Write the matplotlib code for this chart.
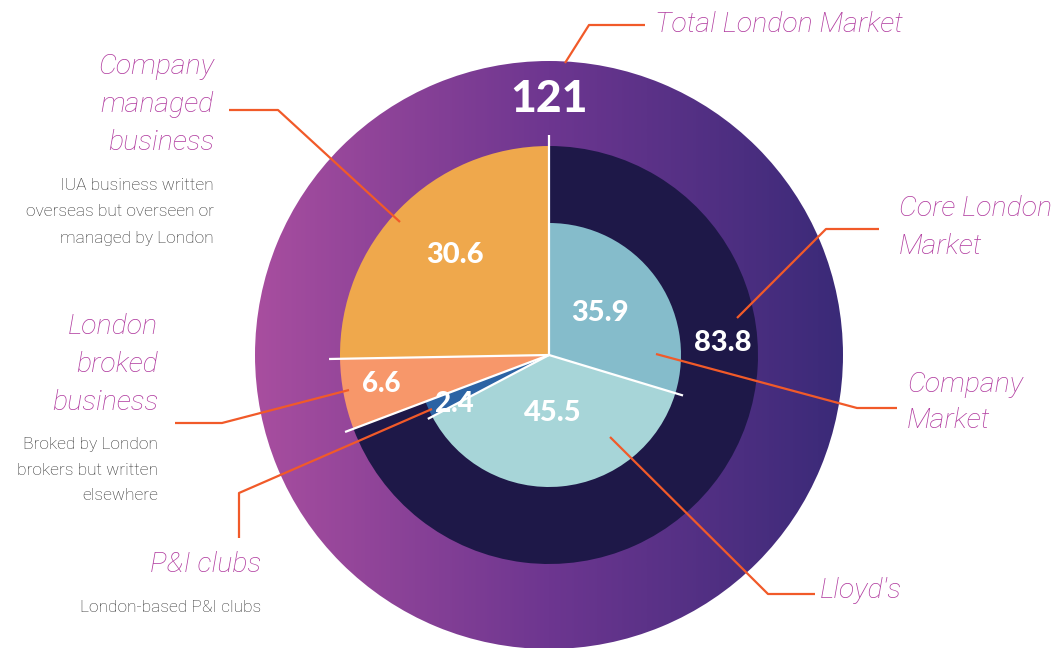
import numpy as np
import matplotlib
matplotlib.use("Agg")
import matplotlib.pyplot as plt
from matplotlib.colors import LinearSegmentedColormap

# ---- data ----
total_label = "121"
total_value = 121.0
middle_labels = ["Company managed business", "London broked business", "Core London Market"]
middle_values = [30.6, 6.6, 83.8]
inner_labels = ["Company Market", "Lloyd's", "P&I clubs"]
inner_values = [35.9, 45.5, 2.4]

W, H = 1062, 648
fig = plt.figure(figsize=(W / 100, H / 100), dpi=100)
ax = fig.add_axes([0, 0, 1, 1])

def Y(y):
    return H - y

cx, cy = 549, Y(355)
R_out, R_mid, R_in = 294, 209, 132

# outer ring: gradient clipped to a disk
outer, _ = ax.pie([total_value], radius=R_out, center=(cx, cy), colors=["none"],
                  wedgeprops=dict(linewidth=0), frame=True)
cmap = LinearSegmentedColormap.from_list("g", ["#a84e9f", "#6d3690", "#3a2a78"])
grad = np.linspace(0, 1, 512).reshape(1, -1)
im = ax.imshow(grad, cmap=cmap, extent=[cx - R_out, cx + R_out, cy - R_out, cy + R_out],
               aspect="auto", zorder=1)
im.set_clip_path(outer[0])

# middle ring
mid_colors = ["#efa84c", "#f7976a", "#1e1848"]
ax.pie(middle_values, radius=R_mid, center=(cx, cy), startangle=90, counterclock=True,
       colors=mid_colors, wedgeprops=dict(linewidth=0, zorder=2), frame=True)

# inner pie in the Core London Market sector
gap = sum(middle_values) - sum(inner_values)
in_colors = ["#85bccb", "#a7d5d8", "#2c63a4", "none"]
ax.pie(inner_values + [gap], radius=R_in, center=(cx, cy), startangle=90, counterclock=False,
       colors=in_colors, wedgeprops=dict(linewidth=0, zorder=3), frame=True)

# white separator lines
scale = 360.0 / total_value
mid_cum = np.cumsum([0] + middle_values)
sep = []
sep.append((90 + mid_cum[0] * scale, 220))
sep.append((90 + mid_cum[1] * scale, 220))
sep.append((90 + mid_cum[2] * scale, 218))
in_cum = np.cumsum(inner_values)
sep.append((90 - in_cum[0] * scale, 140))
sep.append((90 - in_cum[1] * scale, 137))
for ang, r in sep:
    a = np.deg2rad(ang)
    ax.plot([cx, cx + r * np.cos(a)], [cy, cy + r * np.sin(a)], color="white", lw=1.6,
            zorder=4, solid_capstyle="butt")

# value labels
num_font = dict(family="Lato", weight="black", color="white", ha="center", va="center", zorder=6)
ax.text(549, Y(99), total_label, fontsize=32, **num_font)
ax.text(455, Y(255), f"{middle_values[0]}", fontsize=21, **num_font)
ax.text(381, Y(384), f"{middle_values[1]}", fontsize=20, **num_font)
ax.text(723, Y(343), f"{middle_values[2]}", fontsize=21, **num_font)
ax.text(600, Y(313), f"{inner_values[0]}", fontsize=21, **num_font)
ax.text(553, Y(413), f"{inner_values[1]}", fontsize=21, **num_font)
ax.text(454, Y(404), f"{inner_values[2]}", fontsize=20, **num_font)

# leader lines
lc = "#f15a29"
leaders = [
    [(565, 63), (589, 25), (645, 25)],
    [(229, 110), (278, 110), (400, 222)],
    [(175, 423), (222, 423), (349, 390)],
    [(239, 538), (239, 493), (432, 409)],
    [(737, 318), (826, 229), (879, 229)],
    [(656, 354), (857, 408), (897, 408)],
    [(610, 437), (768, 594), (815, 594)],
]
for pts in leaders:
    xs = [p[0] for p in pts]
    ys = [Y(p[1]) for p in pts]
    ax.plot(xs, ys, color=lc, lw=1.6, zorder=5, solid_capstyle="butt")

# category labels
lab = dict(family="Roboto", style="italic", weight="light", color="#b0399e", fontsize=20.5)
desc = dict(family="Roboto", weight="light", color="#2e2e2e", fontsize=12.5)

ax.text(655, Y(25), "Total London Market", ha="left", va="center", **lab)
for i, t in enumerate(["Company", "managed", "business"]):
    ax.text(214, Y(66 + 38 * i), t, ha="right", va="center", **lab)
for i, t in enumerate(["IUA business written", "overseas but overseen or", "managed by London"]):
    ax.text(214, Y(186 + 26 * i), t, ha="right", va="center", **desc)
for i, t in enumerate(["London", "broked", "business"]):
    ax.text(158, Y(326 + 38 * i), t, ha="right", va="center", **lab)
for i, t in enumerate(["Broked by London", "brokers but written", "elsewhere"]):
    ax.text(158, Y(445 + 25.5 * i), t, ha="right", va="center", **desc)
ax.text(261, Y(564), "P&I clubs", ha="right", va="center", **lab)
ax.text(261, Y(607), "London-based P&I clubs", ha="right", va="center", **desc)
for i, t in enumerate(["Core London", "Market"]):
    ax.text(899, Y(209 + 37 * i), t, ha="left", va="center", **lab)
for i, t in enumerate(["Company", "Market"]):
    ax.text(907, Y(385 + 36 * i), t, ha="left", va="center", **lab)
ax.text(820, Y(591), "Lloyd's", ha="left", va="center", **lab)

ax.set_xlim(0, W)
ax.set_ylim(0, H)
ax.set_aspect("equal")
ax.axis("off")
fig.savefig("out.png", dpi=100, facecolor="white")
